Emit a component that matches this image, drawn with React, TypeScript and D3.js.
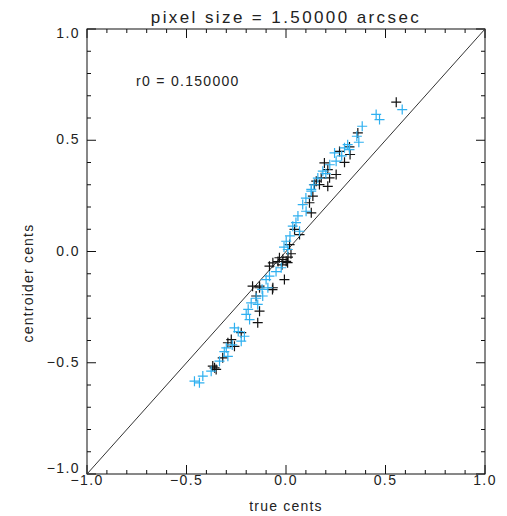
import React, { useEffect, useRef } from 'react';
import * as d3 from 'd3';

// plot text
const title = 'pixel size = 1.50000 arcsec';
const xLabel = 'true cents';
const yLabel = 'centroider cents';
const note = 'r0 = 0.150000';
const majorTicks = [-1.0, -0.5, 0.0, 0.5, 1.0];

// black crosses [true, centroid]
const blackPts: [number, number][] = [
  [0.554, 0.671], [0.361, 0.533], [0.319, 0.47], [0.322, 0.436], [0.269, 0.45],
  [0.294, 0.401], [0.193, 0.398], [0.21, 0.368], [0.252, 0.346], [0.219, 0.331],
  [0.152, 0.316], [0.168, 0.301], [0.135, 0.249], [0.21, 0.293], [0.177, 0.331],
  [0.143, 0.301], [0.118, 0.219], [0.127, 0.174], [0.043, 0.099], [0.068, 0.076],
  [0.018, 0.031], [-0.016, -0.036], [-0.033, -0.028], [0.001, -0.044], [-0.066, -0.051],
  [-0.083, -0.066], [-0.008, -0.126], [-0.133, -0.156], [-0.066, -0.163], [-0.133, -0.163],
  [-0.15, -0.2], [-0.133, -0.268], [-0.142, -0.32], [-0.225, -0.365], [-0.275, -0.396],
  [-0.259, -0.426], [-0.318, -0.478], [-0.368, -0.515], [-0.351, -0.53],
  [0.008, -0.05], [-0.02, -0.06], [0.01, -0.025], [-0.04, -0.045], [0.025, -0.01],
  [-0.168, -0.156], [-0.068, -0.171], [-0.292, -0.41], [-0.359, -0.523],
];

// blue crosses
const bluePts: [number, number][] = [
  [0.584, 0.638], [0.453, 0.616], [0.47, 0.593], [0.383, 0.563], [0.356, 0.518],
  [0.366, 0.491], [0.31, 0.48], [0.319, 0.458], [0.244, 0.443], [0.294, 0.466],
  [0.252, 0.406], [0.185, 0.361], [0.127, 0.279], [0.127, 0.271], [0.084, 0.211],
  [0.101, 0.181], [0.034, 0.114], [0.068, 0.091], [0.001, 0.046], [0.009, 0.009],
  [-0.024, -0.073], [-0.1, -0.126], [-0.083, -0.111], [-0.091, -0.163], [-0.117, -0.2],
  [-0.175, -0.231], [-0.142, -0.238], [-0.2, -0.283], [-0.183, -0.306], [-0.259, -0.343],
  [-0.209, -0.381], [-0.225, -0.403], [-0.3, -0.433], [-0.292, -0.471], [-0.334, -0.493],
  [-0.376, -0.538], [-0.418, -0.56], [-0.46, -0.583], [-0.435, -0.59],
  [0.28, 0.43], [0.22, 0.39], [0.2, 0.35], [0.16, 0.33], [0.14, 0.3], [0.1, 0.24],
  [0.06, 0.16], [0.05, 0.13], [0.02, 0.07], [-0.01, 0.02], [-0.05, -0.09],
  [-0.12, -0.17], [-0.15, -0.21], [-0.19, -0.26], [-0.24, -0.36], [-0.27, -0.42], [-0.31, -0.45],
];

const W = 507, H = 516;
const font = '"Liberation Sans", Arial, sans-serif';
const ink = '#222';
const blue = '#2fb0f0';

export default function App() {
  const ref = useRef<SVGSVGElement>(null);

  useEffect(() => {
    const svg = d3.select(ref.current);
    svg.selectAll('*').remove();

    const x = d3.scaleLinear().domain([-1, 1]).range([87, 485]);
    const y = d3.scaleLinear().domain([-1, 1]).range([474, 29]);
    const [x0, x1] = x.range();
    const [y0, y1] = y.range();

    const minor = d3.range(-10, 11).map((d) => d / 10).filter((d) => Math.abs(d * 2 - Math.round(d * 2)) > 1e-6);

    // frame
    svg.append('rect')
      .attr('x', x0).attr('y', y1)
      .attr('width', x1 - x0).attr('height', y0 - y1)
      .attr('fill', 'none').attr('stroke', '#111').attr('stroke-width', 1);

    const ticks = svg.append('g').attr('stroke', '#111').attr('stroke-width', 1);
    const addTicks = (vals: number[], len: number) => {
      vals.forEach((v) => {
        const px = x(v), py = y(v);
        ticks.append('line').attr('x1', px).attr('x2', px).attr('y1', y0).attr('y2', y0 - len);
        ticks.append('line').attr('x1', px).attr('x2', px).attr('y1', y1).attr('y2', y1 + len);
        ticks.append('line').attr('y1', py).attr('y2', py).attr('x1', x0).attr('x2', x0 + len);
        ticks.append('line').attr('y1', py).attr('y2', py).attr('x1', x1).attr('x2', x1 - len);
      });
    };
    addTicks(majorTicks, 9);
    addTicks(minor, 4);

    // one-to-one line
    svg.append('line')
      .attr('x1', x(-1)).attr('y1', y(-1)).attr('x2', x(1)).attr('y2', y(1))
      .attr('stroke', '#333').attr('stroke-width', 1);

    const txt = (s: string, tx: number, ty: number, size: number, anchor: string, ls = 1) =>
      svg.append('text').attr('x', tx).attr('y', ty).text(s)
        .attr('font-family', font).attr('font-size', size).attr('fill', ink)
        .attr('letter-spacing', ls).attr('text-anchor', anchor);

    const fmt = (v: number) => d3.format('.1f')(v).replace('-', '\u2212');
    majorTicks.forEach((v) => {
      txt(fmt(v), x(v), 485, 14, 'middle', 1.4);
      // end labels are kept inside the frame height, like IDL does
      const by = Math.min(Math.max(y(v) + 4, y1 + 9), y0 - 1);
      txt(fmt(v), 80, by, 14, 'end', 1.4);
    });

    txt(title, 286, 23, 17, 'middle', 2.4);
    txt(xLabel, 286, 511, 14, 'middle', 1.2);
    txt(note, 136, 86, 14, 'start', 1.3);
    txt(yLabel, 0, 0, 14, 'middle', 1.2).attr('transform', 'translate(33,283) rotate(-90)');

    const plus = (g: d3.Selection<SVGGElement, unknown, null, undefined>, pts: [number, number][], color: string) => {
      g.selectAll('path').data(pts).enter().append('path')
        .attr('d', (d) => {
          const cx = x(d[0]), cy = y(d[1]), r = 5;
          return `M${cx - r},${cy}H${cx + r}M${cx},${cy - r}V${cy + r}`;
        })
        .attr('stroke', color).attr('stroke-width', 1.2).attr('fill', 'none');
    };
    plus(svg.append('g'), blackPts, '#111');
    plus(svg.append('g'), bluePts, blue);
  }, []);

  return (
    <div style={{ position: 'absolute', left: 0, top: 0 }}>
      <svg ref={ref} width={W} height={H} style={{ background: '#fff', display: 'block' }} />
    </div>
  );
}
